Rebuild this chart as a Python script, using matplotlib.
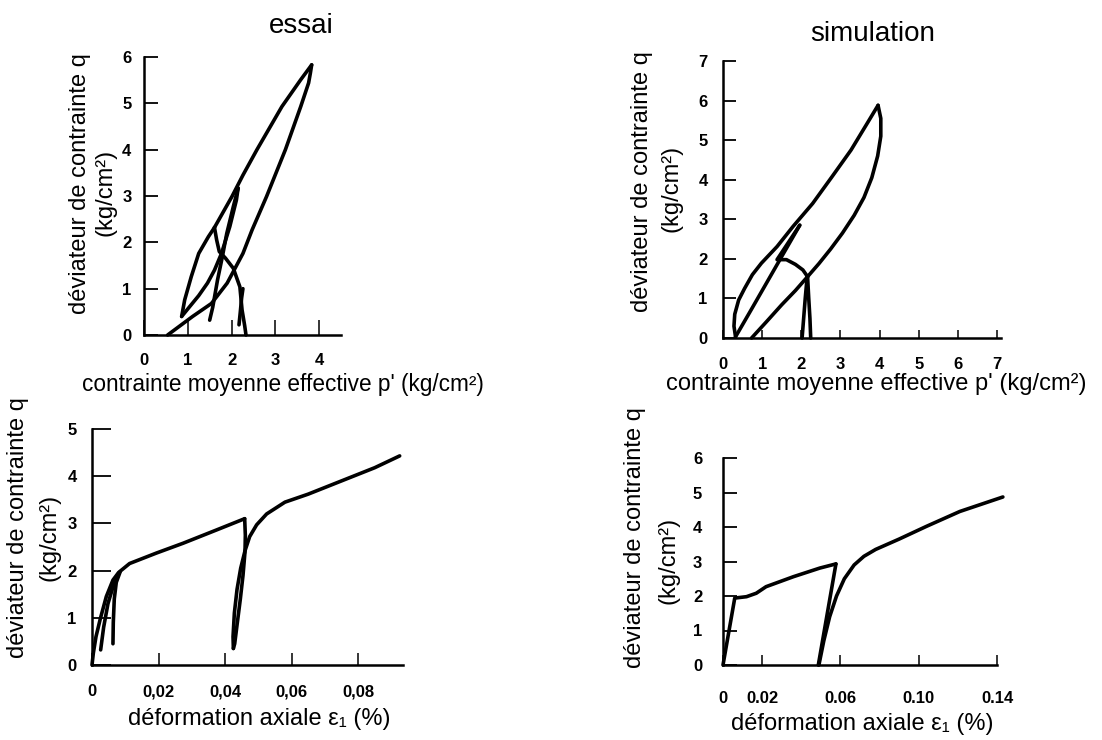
import matplotlib
matplotlib.use("Agg")
import matplotlib.pyplot as plt

plt.rcParams['font.family'] = ['Liberation Sans', 'DejaVu Sans']

# ---------------- data ----------------
# Panel 1 : essai, q vs p'
essai_big_upper_p = [1.61, 2.01, 2.26, 2.58, 3.15, 3.58, 3.83]
essai_big_upper_q = [2.32, 2.99, 3.45, 4.00, 4.93, 5.51, 5.83]
essai_big_lower_p = [3.83, 3.80, 3.76, 3.58, 3.23, 2.80, 2.47, 2.26, 1.90, 1.54, 1.11, 0.54]
essai_big_lower_q = [5.83, 5.65, 5.44, 4.93, 4.00, 2.99, 2.27, 1.76, 1.12, 0.68, 0.40, 0.00]
essai_first_p = [2.33, 2.30, 2.24, 2.19, 2.04, 1.86, 1.72, 1.66, 1.61]
essai_first_q = [0.00, 0.20, 0.54, 1.04, 1.44, 1.66, 1.80, 2.05, 2.32]
essai_blob_p = [2.17, 2.20, 2.23, 2.26]
essai_blob_q = [0.22, 0.50, 0.80, 1.00]
essai_left_up_p = [1.61, 1.47, 1.25, 1.08, 0.93, 0.86]
essai_left_up_q = [2.32, 2.12, 1.76, 1.26, 0.76, 0.40]
essai_left_low_p = [0.86, 1.05, 1.25, 1.45, 1.61, 1.77, 1.96, 2.11, 2.15]
essai_left_low_q = [0.40, 0.62, 0.85, 1.12, 1.40, 1.76, 2.34, 2.91, 3.17]
essai_mid_p = [2.15, 2.04, 1.89, 1.79, 1.68, 1.57, 1.50]
essai_mid_q = [3.17, 2.77, 2.19, 1.69, 1.19, 0.60, 0.32]

# Panel 2 : simulation, q vs p'
sim_outer_left_p = [0.32, 0.28, 0.30, 0.40, 0.55, 0.75, 0.98, 1.38, 1.79, 2.29, 2.78, 3.27, 3.68, 3.96]
sim_outer_left_q = [0.03, 0.30, 0.60, 0.96, 1.25, 1.60, 1.89, 2.31, 2.82, 3.40, 4.07, 4.75, 5.42, 5.88]
sim_outer_right_p = [3.96, 4.03, 4.03, 3.95, 3.80, 3.60, 3.35, 3.05, 2.75, 2.45, 2.16]
sim_outer_right_q = [5.88, 5.55, 5.10, 4.60, 4.05, 3.55, 3.10, 2.65, 2.25, 1.88, 1.55]
sim_inner1_p = [0.32, 0.70, 1.10, 1.50, 1.96]
sim_inner1_q = [0.03, 0.68, 1.37, 2.06, 2.85]
sim_flag_p = [2.16, 2.04, 1.85, 1.62, 1.38, 1.96]
sim_flag_q = [1.55, 1.72, 1.86, 1.98, 1.98, 2.85]
sim_inner2_p = [0.73, 1.10, 1.50, 1.85, 2.16]
sim_inner2_q = [0.00, 0.40, 0.84, 1.20, 1.55]
sim_vert_r_p = [2.24, 2.22, 2.19, 2.16]
sim_vert_r_q = [0.00, 0.50, 1.00, 1.55]
sim_vert_l_p = [2.02, 2.06, 2.10, 2.15]
sim_vert_l_q = [0.00, 0.50, 1.00, 1.55]

# Panel 3 : essai, q vs eps1
e_main_x = [0.0, 0.0004, 0.0012, 0.0025, 0.0043, 0.0063, 0.0080, 0.0113, 0.0193, 0.0274, 0.0374, 0.0459]
e_main_y = [0.0, 0.25, 0.60, 0.98, 1.45, 1.80, 1.96, 2.15, 2.37, 2.58, 2.86, 3.10]
e_cyc1_x = [0.0026, 0.0035, 0.0048, 0.0065, 0.0080]
e_cyc1_y = [0.32, 0.80, 1.30, 1.70, 1.94]
e_cyc2_x = [0.0063, 0.0064, 0.0067, 0.0073, 0.0085]
e_cyc2_y = [0.45, 0.90, 1.40, 1.75, 1.98]
e_unload_x = [0.0459, 0.0461, 0.0460, 0.0454, 0.0446, 0.0437, 0.0429, 0.0425]
e_unload_y = [3.10, 2.75, 2.40, 1.90, 1.40, 0.90, 0.45, 0.35]
e_reload_x = [0.0425, 0.0424, 0.0428, 0.0436, 0.0447, 0.0460, 0.0474, 0.0495, 0.0525, 0.0580,
              0.0650, 0.0750, 0.0850, 0.0925]
e_reload_y = [0.35, 0.60, 1.10, 1.60, 2.05, 2.42, 2.72, 2.97, 3.20, 3.45, 3.62, 3.90, 4.18, 4.43]

# Panel 4 : simulation, q vs eps1
s_main_x = [0.0, 0.006, 0.012, 0.017, 0.022, 0.036, 0.0495, 0.0577]
s_main_y = [0.0, 1.94, 1.98, 2.08, 2.27, 2.56, 2.81, 2.93]
s_unload_x = [0.0577, 0.0487]
s_unload_y = [2.93, 0.0]
s_reload_x = [0.0490, 0.0515, 0.0545, 0.058, 0.062, 0.067, 0.072, 0.078, 0.090, 0.104, 0.121, 0.143]
s_reload_y = [0.0, 0.70, 1.40, 2.00, 2.50, 2.90, 3.15, 3.35, 3.65, 4.02, 4.45, 4.87]

# tick labels
p1_xticks = [0, 1, 2, 3, 4]
p1_yticks = [0, 1, 2, 3, 4, 5, 6]
p2_xticks = [0, 1, 2, 3, 4, 5, 6, 7]
p2_yticks = [0, 1, 2, 3, 4, 5, 6, 7]
p3_xticks = [0, 0.02, 0.04, 0.06, 0.08]
p3_xlabels = ['0', '0,02', '0,04', '0,06', '0,08']
p3_yticks = [0, 1, 2, 3, 4, 5]
p4_xticks = [0, 0.02, 0.06, 0.10, 0.14]
p4_xlabels = ['0', '0.02', '0.06', '0.10', '0.14']
p4_yticks = [0, 1, 2, 3, 4, 5, 6]

# ---------------- figure ----------------
W, H = 1102, 740
fig = plt.figure(figsize=(W / 100, H / 100), dpi=100)
fig.patch.set_facecolor('white')

LW = 2.6
TICKFONT = dict(family=['Liberation Sans Narrow', 'Liberation Sans', 'DejaVu Sans'],
                weight='bold', size=12)
LABELSIZE = 17
TITLESIZE = 20


def make_ax(left, right, top, bottom):
    return fig.add_axes([left / W, 1 - bottom / H, (right - left) / W, (bottom - top) / H])


def style(ax, xlim, ylim, xt, yt, xlab, ylab, xlen, ylen, xpad, ypad):
    ax.set_xlim(*xlim)
    ax.set_ylim(*ylim)
    for s in ('top', 'right'):
        ax.spines[s].set_visible(False)
    for s in ('left', 'bottom'):
        ax.spines[s].set_linewidth(1.8)
    ax.set_xticks(xt)
    ax.set_yticks(yt)
    ax.set_xticklabels(xlab, fontdict=TICKFONT)
    ax.set_yticklabels(ylab, fontdict=TICKFONT)
    ax.tick_params(axis='x', direction='in', length=xlen, width=1.1, pad=xpad)
    ax.tick_params(axis='y', direction='in', length=ylen, width=1.3, pad=ypad)
    ax.patch.set_alpha(0)


def draw(ax, xs, ys):
    ax.plot(xs, ys, color='black', lw=LW, solid_joinstyle='round',
            solid_capstyle='round', clip_on=False)


# Panel 1
ax1 = make_ax(144, 341, 57, 335)
style(ax1, (0, 4.5), (0, 6), p1_xticks, p1_yticks, [str(v) for v in p1_xticks],
      [str(v) for v in p1_yticks], 11, 10, 13, 9)
for xs, ys in [(essai_big_upper_p, essai_big_upper_q), (essai_big_lower_p, essai_big_lower_q),
               (essai_first_p, essai_first_q), (essai_blob_p, essai_blob_q),
               (essai_left_up_p, essai_left_up_q), (essai_left_low_p, essai_left_low_q),
               (essai_mid_p, essai_mid_q)]:
    draw(ax1, xs, ys)

# Panel 2
ax2 = make_ax(723, 1001, 61, 338)
style(ax2, (0, 7.1), (0, 7), p2_xticks, p2_yticks, [str(v) for v in p2_xticks],
      [str(v) for v in p2_yticks], 6, 9, 14, 11)
for xs, ys in [(sim_outer_left_p, sim_outer_left_q), (sim_outer_right_p, sim_outer_right_q),
               (sim_inner1_p, sim_inner1_q), (sim_flag_p, sim_flag_q),
               (sim_inner2_p, sim_inner2_q), (sim_vert_r_p, sim_vert_r_q),
               (sim_vert_l_p, sim_vert_l_q)]:
    draw(ax2, xs, ys)

# Panel 3
ax3 = make_ax(92, 403, 429, 665)
style(ax3, (0, 0.0935), (0, 5), p3_xticks, p3_yticks, p3_xlabels,
      [str(v) for v in p3_yticks], 9, 13.5, 14, 11)
for xs, ys in [(e_main_x, e_main_y), (e_cyc1_x, e_cyc1_y), (e_cyc2_x, e_cyc2_y),
               (e_unload_x, e_unload_y), (e_reload_x, e_reload_y)]:
    draw(ax3, xs, ys)

# Panel 4
ax4 = make_ax(723, 997, 458, 665)
style(ax4, (0, 0.14), (0, 6), p4_xticks, p4_yticks, p4_xlabels,
      [str(v) for v in p4_yticks], 7, 10, 19, 15)
for xs, ys in [(s_main_x, s_main_y), (s_unload_x, s_unload_y), (s_reload_x, s_reload_y)]:
    draw(ax4, xs, ys)


def ftext(x, y, s, size, rot=0):
    fig.text(x / W, 1 - y / H, s, fontsize=size, rotation=rot, ha='center', va='center')


YL1 = 'déviateur de contrainte q'
YL2 = '(kg/cm²)'
XLP = "contrainte moyenne effective p' (kg/cm²)"
XLE = 'déformation axiale ε₁ (%)'

ftext(301, 26, 'essai', TITLESIZE)
ftext(873, 34, 'simulation', TITLESIZE)

ftext(80, 184, YL1, LABELSIZE, 90)
ftext(106, 192, YL2, LABELSIZE, 90)
ftext(642, 182, YL1, LABELSIZE, 90)
ftext(672, 188, YL2, LABELSIZE, 90)
ftext(18, 528, YL1, LABELSIZE, 90)
ftext(50, 537, YL2, LABELSIZE, 90)
ftext(635, 538, YL1, LABELSIZE, 90)
ftext(668, 560, YL2, LABELSIZE, 90)

ftext(283, 384, XLP, 16.3)
ftext(876, 384, XLP, LABELSIZE)
ftext(259, 719, XLE, LABELSIZE)
ftext(862, 724, XLE, LABELSIZE)

fig.savefig('out.png', dpi=100, facecolor='white')
